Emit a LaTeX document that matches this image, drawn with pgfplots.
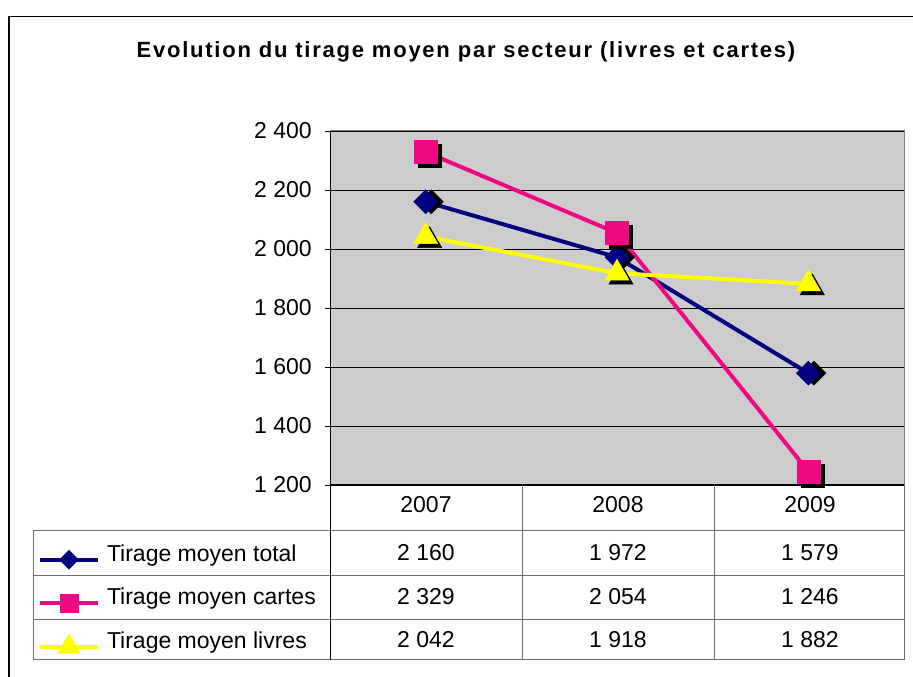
\documentclass[border=0pt]{standalone}
\usepackage{fontspec}
\setmainfont{Liberation Sans}
\newfontfamily\titlefont[LetterSpace=8]{Liberation Sans}
\usepackage{pgfplots}
\pgfplotsset{compat=1.18}
\definecolor{navyc}{RGB}{0,0,128}
\definecolor{pinkc}{RGB}{240,8,130}
\definecolor{yellowc}{RGB}{255,255,0}
\definecolor{chartgray}{RGB}{204,204,204}
\definecolor{tablegray}{RGB}{110,110,110}
\begin{document}
\begin{tikzpicture}[x=1pt,y=1pt]
\path[use as bounding box] (0,0) rectangle (913,677);
% outer frame
\draw[black, line width=1.3pt] (9,0) -- (9,660.5) -- (913,660.5);
% title
\node[anchor=base, inner sep=0pt] at (466,619.3) {\titlefont\bfseries\fontsize{22}{26}\selectfont Evolution du tirage moyen par secteur (livres et cartes)};
\begin{axis}[
  at={(330pt,192pt)}, anchor=south west,
  width=574pt, height=354pt, scale only axis,
  xmin=0, xmax=3, ymin=1200, ymax=2400,
  xtick=\empty,
  ytick={1200,1400,1600,1800,2000,2200,2400},
  yticklabels={1 200,1 400,1 600,1 800,2 000,2 200,2 400},
  ytick pos=left,
  ymajorgrids,
  grid style={black, line width=0.75pt},
  axis background/.style={fill=chartgray},
  axis line style={draw=gray, line width=1pt},
  tick style={black, line width=0.75pt},
  tick align=outside, major tick length=5pt,
  yticklabel style={font=\fontsize{23}{27}\selectfont, anchor=east, inner sep=0pt, xshift=-13pt},
  clip=false,
  legend image code/.code={
    \draw[#1, mark repeat=2, mark phase=2] plot coordinates {(0pt,-7pt) (29pt,-7pt) (58pt,-7pt)};
  },
  legend style={at={(-0.5087,-0.12994)}, anchor=north west, draw=none, fill=none,
    inner sep=0pt, outer sep=0pt, row sep=0pt, column sep=7pt,
    font=\fontsize{23}{27}\selectfont,
    nodes={inner sep=0pt, text height=30pt, text depth=13.5pt}},
  legend cell align=left,
]
% --- Tirage moyen total
\addplot[navyc, line width=4pt, forget plot] coordinates {(0.5,2160) (1.5,1972) (2.5,1579)};
\addplot[only marks, mark=square*, mark size=8.5pt, black, forget plot,
  mark options={rotate=45, xshift=4pt, yshift=-4pt}] coordinates {(0.5,2160) (1.5,1972) (2.5,1579)};
\addplot[only marks, mark=square*, mark size=8.5pt, navyc, forget plot,
  mark options={rotate=45}] coordinates {(0.5,2160) (1.5,1972) (2.5,1579)};
% --- Tirage moyen cartes
\addplot[pinkc, line width=4pt, forget plot] coordinates {(0.5,2329) (1.5,2054) (2.5,1246)};
\addplot[only marks, mark=square*, mark size=11.5pt, black, forget plot,
  mark options={xshift=4pt, yshift=-4pt}] coordinates {(0.5,2329) (1.5,2054) (2.5,1246)};
\addplot[only marks, mark=square*, mark size=11.5pt, pinkc, forget plot] coordinates {(0.5,2329) (1.5,2054) (2.5,1246)};
% --- Tirage moyen livres
\addplot[yellowc, line width=4pt, forget plot] coordinates {(0.5,2042) (1.5,1918) (2.5,1882)};
\addplot[only marks, mark=triangle*, mark size=14pt, black, forget plot,
  mark options={xshift=4pt, yshift=-4pt}] coordinates {(0.5,2042) (1.5,1918) (2.5,1882)};
\addplot[only marks, mark=triangle*, mark size=14pt, yellowc, forget plot] coordinates {(0.5,2042) (1.5,1918) (2.5,1882)};
% legend
\addlegendimage{navyc, line width=4pt, mark=square*, mark size=5pt, mark options={rotate=45}}
\addlegendentry{Tirage moyen total}
\addlegendimage{pinkc, line width=4pt, mark=square*, mark size=7.5pt}
\addlegendentry{Tirage moyen cartes}
\addlegendimage{yellowc, line width=4pt, mark=triangle*, mark size=9.5pt}
\addlegendentry{Tirage moyen livres}
\end{axis}
% axis lines (black left and bottom)
\draw[black, line width=1pt] (330,546) -- (330,17);
\draw[black, line width=1pt] (330,192) -- (904,192);
% data table
\draw[tablegray, line width=1pt] (33,146) -- (904,146);
\draw[tablegray, line width=1pt] (33,101) -- (904,101);
\draw[tablegray, line width=1pt] (33,57.5) -- (904,57.5);
\draw[tablegray, line width=1pt] (33,17) -- (904,17);
\draw[tablegray, line width=1pt] (33,146) -- (33,17);
\draw[tablegray, line width=1pt] (522,192) -- (522,17);
\draw[tablegray, line width=1pt] (714,192) -- (714,17);
\draw[tablegray, line width=1pt] (904,192) -- (904,17);
\draw[black, line width=1pt] (330,192) -- (330,17);
\begin{scope}[every node/.style={anchor=base, inner sep=0pt, font=\fontsize{23}{27}\selectfont}]
\node at (426,164) {2007};
\node at (618,164) {2008};
\node at (810,164) {2009};
\node at (426,116) {2 160};
\node at (618,116) {1 972};
\node at (810,116) {1 579};
\node at (426,72) {2 329};
\node at (618,72) {2 054};
\node at (810,72) {1 246};
\node at (426,29) {2 042};
\node at (618,29) {1 918};
\node at (810,29) {1 882};
\end{scope}
\end{tikzpicture}
\end{document}
